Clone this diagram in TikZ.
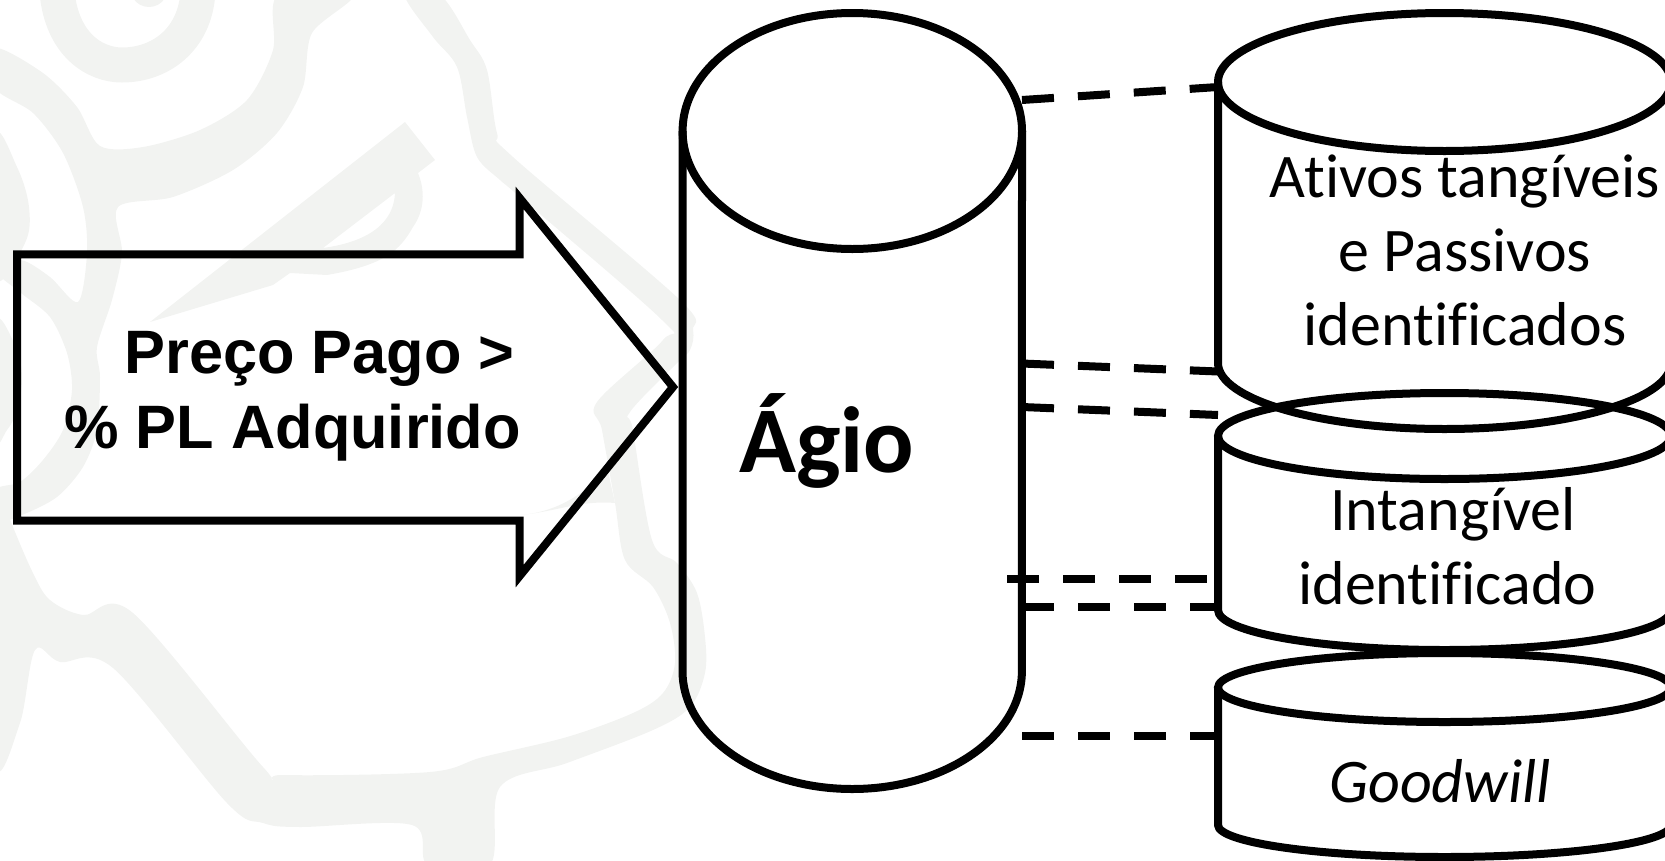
\documentclass[tikz,border=0pt]{standalone}
\usepackage{fontspec}
\setmainfont{Carlito}[Ligatures=CommonOff]
\newfontfamily\arialfont{Liberation Sans}
\definecolor{wmark}{HTML}{F2F3F1}
\tikzset{
  ink/.style={draw=black,line width=8pt,line join=miter},
  linkline/.style={draw=black,line width=8pt,dash pattern=on 32pt off 24pt},
  wm/.style={fill=wmark,draw=none,even odd rule},
  wmline/.style={draw=wmark,line width=35pt,fill=none},
  bodytext/.style={font=\fontsize{62}{74}\selectfont,align=center,inner sep=0pt,anchor=base},
}
\begin{document}
\begin{tikzpicture}[x=1pt,y=-1pt]
\useasboundingbox (0,0) rectangle (1665,860);
\clip (0,0) rectangle (1665,860);
% watermark
\fill[wm] plot[smooth cycle,tension=0.55] coordinates {(0,493)(13,527)(33,573)(50,600)(83,615)(133,613)(263,767)(283,775)(430,772)(483,757)(567,737)(633,713)(663,693)(675,663)(670,623)(653,587)(625,560)(615,503)(602,430)(597,402)(663,340)(662,320)(520,197)(500,180)(477,157)(467,117)(457,67)(433,37)(405,-5)(440,-5)(470,40)(487,70)(497,133)(513,157)(680,300)(693,330)(690,350)(677,363)(630,412)(633,430)(652,540)(677,563)(697,593)(705,637)(705,673)(690,707)(653,730)(567,763)(500,787)(490,865)(428,865)(412,825)(300,827)(263,823)(227,803)(113,668)(60,662)(35,650)(20,723)(-5,760)(-5,493)};
\fill[wm] plot[smooth cycle,tension=0.5] coordinates {(353,-5)(312,33)(303,87)(277,133)(233,170)(173,197)(118,207)(122,253)(112,300)(97,347)(100,377)(97,430)(83,467)(57,497)(22,515)(-5,522)(-5,490)(20,482)(43,460)(63,430)(72,390)(67,353)(50,317)(21,293)(-5,270)(21,260)(50,277)(78,302)(87,253)(83,207)(63,153)(33,113)(-5,88)(-5,48)(43,73)(77,107)(100,146)(143,147)(200,130)(247,100)(273,50)(278,-5)};
\draw[wmline] (57,-8) .. controls (62,45) and (95,65) .. (122,65) .. controls (160,65) and (195,40) .. (198,-8);
\fill[wm] (133,-2) .. controls (140,10) and (158,10) .. (165,-2) -- cycle;
\fill[wm] plot[smooth cycle,tension=0.6] coordinates {(-5,137)(17,167)(29,207)(25,243)(-5,277)};
\fill[wm] plot[smooth cycle,tension=0.6] coordinates {(-5,322)(15,345)(22,377)(17,410)(7,430)(-5,437)};
\fill[wm] (150,322) -- (405,122) -- (435,160) -- (418,173) .. controls (425,190) and (425,210) .. (413,227) .. controls (400,250) and (385,265) .. (327,275) -- (290,273) -- (273,285) -- cycle
  (395,193) .. controls (394,215) and (380,240) .. (323,248) -- cycle;
\fill[wm] (520,515) .. controls (560,512) and (590,490) .. (607,467) -- (615,503) .. controls (580,500) and (555,512) .. (520,515) -- cycle;
% arrow
\draw[ink] (17,254.3) -- (519.7,254.3) -- (519.7,198) -- (673,387) -- (519.7,576) -- (519.7,520.7) -- (17,520.7) -- cycle;
\node[font=\arialfont\bfseries\fontsize{61.3}{75}\selectfont,align=right,inner sep=0pt,anchor=base east] (price) at (521,448) {Preço Pago >\hspace*{6.4pt}\\\% PL Adquirido};
% main cylinder
\draw[ink] (682.5,131) -- (682.5,671) arc[start angle=180,end angle=0,x radius=169.7,y radius=118] -- (1022,131);
\draw[ink] (852.3,131) ellipse[x radius=169.7,y radius=118];
\node[font=\bfseries\fontsize{94}{100}\selectfont,inner sep=0pt,anchor=base west] (agio) at (739,472) {Ágio};
% right cylinders
\draw[ink] (1218,82) -- (1218,363) arc[start angle=180,end angle=0,x radius=226.5,y radius=66] -- (1671,82);
\draw[ink] (1444.5,82) ellipse[x radius=226.5,y radius=69];
\draw[ink] (1218,436) -- (1218,610) arc[start angle=180,end angle=0,x radius=226.5,y radius=40] -- (1671,436);
\draw[ink] (1444.5,436) ellipse[x radius=226.5,y radius=43];
\draw[ink] (1218,687.5) -- (1218,825) arc[start angle=180,end angle=0,x radius=226.5,y radius=32] -- (1671,687.5);
\draw[ink] (1444.5,687.5) ellipse[x radius=226.5,y radius=34.5];
\node[bodytext] (tang) at (1465,345) {Ativos tangíveis\\e Passivos\\identificados};
\node[bodytext] (intang) at (1447.5,604) {\hspace*{11pt}Intangível\\identificado};
\node[bodytext,font=\itshape\fontsize{62}{74}\selectfont] (gw) at (1440,802) {Goodwill};
% links
\coordinate (m1) at (1022,100); \coordinate (r1) at (1218,87);
\coordinate (m2) at (1022,363.5); \coordinate (r2) at (1218,371.5);
\coordinate (m3) at (1022,407); \coordinate (r3) at (1218,415);
\coordinate (m4) at (1007,579); \coordinate (r4) at (1207,579);
\coordinate (m5) at (1022,607); \coordinate (r5) at (1218,607);
\coordinate (m6) at (1022,736); \coordinate (r6) at (1218,736);
\draw[linkline] (m1) -- (r1);
\draw[linkline] (m2) -- (r2);
\draw[linkline] (m3) -- (r3);
\draw[linkline] (m4) -- (r4);
\draw[linkline] (m5) -- (r5);
\draw[linkline] (m6) -- (r6);
\end{tikzpicture}
\end{document}
